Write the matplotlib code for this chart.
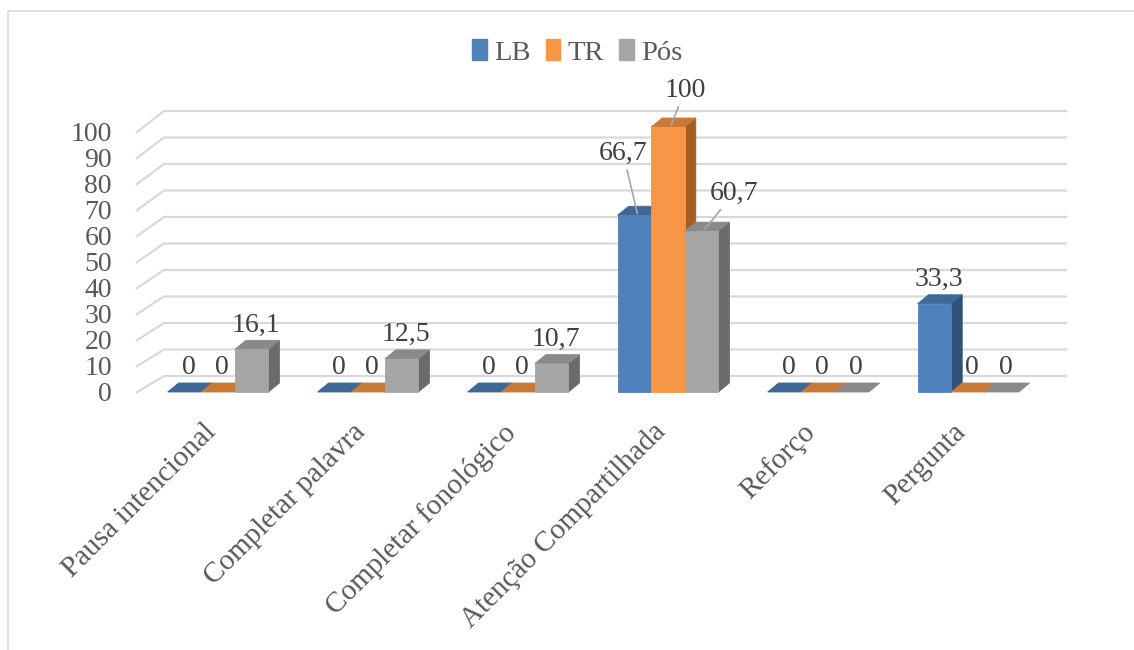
import matplotlib
matplotlib.use("Agg")
import matplotlib.pyplot as plt
from matplotlib.patches import Polygon, Rectangle, Patch

# ---- data -------------------------------------------------------------
categories = ["Pausa intencional", "Completar palavra", "Completar fonológico",
              "Atenção Compartilhada", "Reforço", "Pergunta"]
series_names = ["LB", "TR", "Pós"]
lb_values = [0, 0, 0, 66.7, 0, 33.3]
tr_values = [0, 0, 0, 100, 0, 0]
pos_values = [16.1, 12.5, 10.7, 60.7, 0, 0]
y_ticks = [0, 10, 20, 30, 40, 50, 60, 70, 80, 90, 100]

# ---- style ------------------------------------------------------------
FONT = "Liberation Serif"
TXT = "#595959"
LBL = "#404040"
GRID = "#D9D9D9"
# (front, top, side) shades for each series
face_colors = [
    ("#4F81BD", "#3E6898", "#30507A"),
    ("#F79646", "#C97A37", "#A45F25"),
    ("#A5A5A5", "#8A8A8A", "#6B6B6B"),
]

W, H, DPI = 1134, 650, 100
px_cat, px_val = 150.0, 2.65      # pixels per category / per value unit
x0_px, y0_px = 218.0, 392.0       # first category centre, baseline

fig = plt.figure(figsize=(W / DPI, H / DPI), dpi=DPI)
ax = fig.add_axes([0, 0, 1, 1])
ax.set_xlim(-x0_px / px_cat, (W - x0_px) / px_cat)
ax.set_ylim(-(H - y0_px) / px_val, y0_px / px_val)
ax.axis("off")

# oblique depth of the back wall and of the bars
wall_dx, wall_dy = 28 / px_cat, 16 / px_val
front_scale = 0.981               # slight perspective shrink at the front edge
bar_dx, bar_dy = 11 / px_cat, 9 / px_val
x_left, x_right = -0.547, 5.66
bw = 0.224

# ---- back wall gridlines and value labels ------------------------------
for v in y_ticks:
    vf = v * front_scale - 0.3
    ax.plot([x_left, x_left + wall_dx, x_right], [vf, v + wall_dy, v + wall_dy],
            color=GRID, lw=1.6, solid_capstyle="butt", zorder=1)
    ax.text(x_left - 24 / px_cat, vf - 0.8, f"{v}", ha="right", va="center",
            fontsize=20, family=FONT, color=TXT)

# ---- bars ---------------------------------------------------------------
def draw_bar(x, v, cols, z):
    front, top, side = cols
    ax.add_patch(Polygon([(x + bw, 0), (x + bw + bar_dx, bar_dy),
                          (x + bw + bar_dx, v + bar_dy), (x + bw, v)],
                         closed=True, facecolor=side, edgecolor=side, lw=0.6, zorder=z))
    ax.add_patch(Polygon([(x, v), (x + bw, v), (x + bw + bar_dx, v + bar_dy),
                          (x + bar_dx, v + bar_dy)],
                         closed=True, facecolor=top, edgecolor=top, lw=0.6, zorder=z))
    if v > 0:
        ax.add_patch(Rectangle((x, 0), bw, v, facecolor=front, edgecolor=front,
                               lw=0.6, zorder=z))

# label nudges (dx in categories, height above the bar in value units)
leader_labels = {
    (0, 3): (-0.075, 23.4),
    (1, 3): (0.113, 13.9),
    (2, 3): (0.215, 14.3),
}

all_series = [lb_values, tr_values, pos_values]
for i, cat in enumerate(categories):
    for s, values in enumerate(all_series):
        v = values[i]
        x = i + (s - 1.5) * bw
        z = 3 + i * 3 + s
        draw_bar(x, v, face_colors[s], z)
        label = f"{v:g}".replace(".", ",")
        cx = x + bw / 2
        if (s, i) in leader_labels:
            ddx, ddy = leader_labels[(s, i)]
            ax.annotate(label, xy=(cx + 0.02, v + 0.6), xytext=(cx + ddx, v + ddy),
                        ha="center", va="center", fontsize=20, family=FONT,
                        color=LBL, zorder=40,
                        arrowprops=dict(arrowstyle="-", color="#A6A6A6", lw=1.2,
                                        shrinkA=1, shrinkB=0))
        else:
            ax.text(cx + bar_dx / 2 - 0.01, v + 9.2, label, ha="center", va="center",
                    fontsize=20, family=FONT, color=LBL, zorder=40)

    # category label, rotated 45 degrees, ending under the group centre
    ax.text(i + 0.02, -10.2, cat, rotation=45, ha="right", va="top",
            fontsize=21, family=FONT, color=TXT)

# ---- legend ---------------------------------------------------------------
handles = [Patch(facecolor=c[0], edgecolor=c[0]) for c in face_colors]
leg = fig.legend(handles, series_names, loc="center", bbox_to_anchor=(0.509, 0.919),
                 ncol=3, frameon=False, handlelength=0.5, handleheight=0.75,
                 handletextpad=0.25, columnspacing=0.55,
                 prop={"family": FONT, "size": 20.5})
for t in leg.get_texts():
    t.set_color(TXT)

# chart area outline
fig.patches.append(Rectangle((8 / W, -0.1), 2.0, 1 - 11 / H + 0.1,
                             transform=fig.transFigure, fill=False,
                             edgecolor="#D9D9D9", lw=1.2))

fig.savefig("out.png", dpi=DPI)
